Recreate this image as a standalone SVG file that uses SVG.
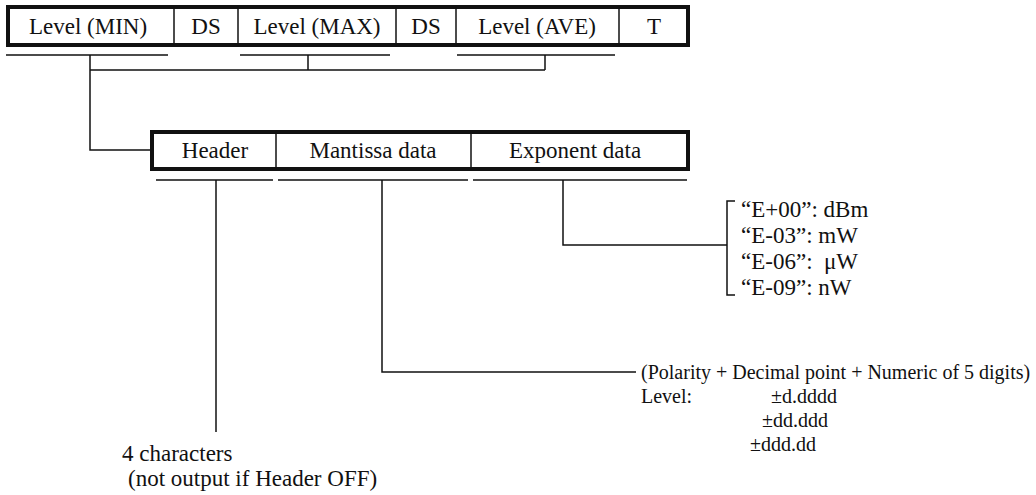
<svg xmlns="http://www.w3.org/2000/svg" width="1036" height="495" viewBox="0 0 1036 495" font-family="'Liberation Serif','Times New Roman',serif">
<style>
text{font-family:"Liberation Serif","Times New Roman",serif;fill:#111}
.b{font-size:23px;text-anchor:middle}
.t{font-size:23px}
.s{font-size:20px}
.frame{fill:#fff;stroke:#111;stroke-width:4}
.div{stroke:#111;stroke-width:1.5}
.ln{fill:none;stroke:#111;stroke-width:1.5}
</style>
<rect width="1036" height="495" fill="#fff"/>
<g id="record">
<rect class="frame" x="8" y="7" width="680" height="38"/>
<line class="div" x1="174" y1="7" x2="174" y2="45"/>
<line class="div" x1="238" y1="7" x2="238" y2="45"/>
<line class="div" x1="396" y1="7" x2="396" y2="45"/>
<line class="div" x1="456" y1="7" x2="456" y2="45"/>
<line class="div" x1="619" y1="7" x2="619" y2="45"/>
<text class="b" x="88" y="34">Level (MIN)</text>
<text class="b" x="206" y="34">DS</text>
<text class="b" x="317" y="34">Level (MAX)</text>
<text class="b" x="426" y="34">DS</text>
<text class="b" x="537" y="34">Level (AVE)</text>
<text class="b" x="654" y="34">T</text>
</g>
<g id="level">
<rect class="frame" x="152" y="132" width="536" height="37"/>
<line class="div" x1="276" y1="132" x2="276" y2="169"/>
<line class="div" x1="471" y1="132" x2="471" y2="169"/>
<text class="b" x="215" y="158">Header</text>
<text class="b" x="373" y="158">Mantissa data</text>
<text class="b" x="575" y="158">Exponent data</text>
</g>
<g id="units">
<text class="t" x="741" y="217">“E+00”: dBm</text>
<text class="t" x="741" y="243">“E-03”: mW</text>
<text class="t" x="741" y="269">“E-06”:&#160; μW</text>
<text class="t" x="741" y="295">“E-09”: nW</text>
</g>
<g id="mantissa-note">
<text class="s" x="641" y="379">(Polarity + Decimal point + Numeric of 5 digits)</text>
<text class="s" x="641" y="403">Level:</text>
<text class="s" x="771" y="403">±d.dddd</text>
<text class="s" x="762" y="427">±dd.ddd</text>
<text class="s" x="750" y="451">±ddd.dd</text>
</g>
<g id="header-note">
<text class="t" x="122" y="461">4 characters</text>
<text class="t" x="128" y="486">(not output if Header OFF)</text>
</g>
<g id="connectors">
<path class="ln" d="M6,55H168M240,55H390M457,55H615"/>
<path class="ln" d="M90,55V150H150M90,70H545M308,55V70M545,55V70"/>
<path class="ln" d="M156,180H273M278,180H468M473,180H687"/>
<path class="ln" d="M216,180V432"/>
<path class="ln" d="M382,180V372H636"/>
<path class="ln" d="M563,180V245H727"/>
<path class="ln" d="M735,201H727V295H735"/>
</g>
</svg>
